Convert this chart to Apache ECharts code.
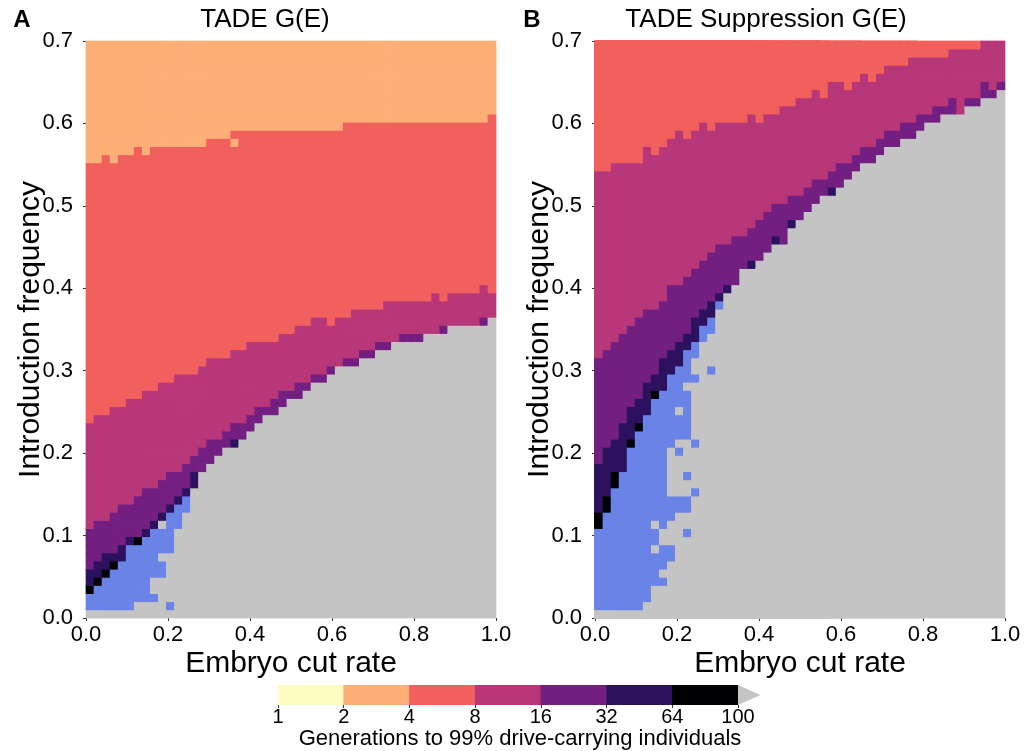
<!DOCTYPE html>
<html><head><meta charset="utf-8">
<script src="https://cdn.jsdelivr.net/npm/echarts@6/dist/echarts.min.js"></script>
<style>html,body{margin:0;padding:0;background:#fff}#c{width:1026px;height:751px}</style>
</head><body><div id="c"></div>
<script>
// ---------- grid definition ----------
const NX = 51;            // embryo cut rate steps (0 .. 1)
const NY = 71;            // introduction frequency steps (0 .. 0.7)
const YMAX = 0.7;
const xTickValues = [0, 0.2, 0.4, 0.6, 0.8, 1.0];
const yTickValues = [0, 0.1, 0.2, 0.3, 0.4, 0.5, 0.6, 0.7];
const colorbarTickLabels = ['1', '2', '4', '8', '16', '32', '64', '100'];
// category index: 0 >100 (grey), 1 drive lost (blue), 2 64-100, 3 32-64, 4 16-32, 5 8-16, 6 4-8, 7 2-4, 8 1-2
const colorbarCategories = [8, 7, 6, 5, 4, 3, 2];

// ---------- Panel A: TADE G(E) (row index boundaries per cut-rate column) ----------
const startA      = [3,4,5,6,7,9,9,10,11,12,13,14,15,16,18,19,20,21,21,22,23,24,25,25,26,27,27,28,29,29,30,31,31,31,32,32,33,33,34,34,34,34,35,35,35,36,36,36,36,36,37];
const blackTopA   = [4,5,6,7,7,9,10,10,11,12,13,14,15,16,18,19,20,21,21,22,23,24,25,25,26,27,27,28,29,29,30,31,31,31,32,32,33,33,34,34,34,34,35,35,35,36,36,36,36,36,37];
const darkTopA    = [6,7,8,8,9,10,10,11,12,13,14,15,16,18,18,19,20,21,22,22,23,24,25,25,26,27,27,28,29,29,30,31,31,31,32,32,33,33,34,34,34,34,35,35,35,36,36,36,36,36,37];
const purpleTopA  = [11,12,12,13,14,14,15,16,16,17,18,18,19,20,21,22,22,23,24,24,25,26,26,27,28,28,29,29,30,30,31,31,32,32,33,33,34,34,34,35,35,35,35,35,36,36,36,36,36,37,37];
const magentaTopA = [24,25,25,26,26,27,27,28,28,29,29,30,30,30,31,32,32,32,33,33,34,34,34,34,35,35,36,36,37,37,36,37,37,38,38,38,38,39,39,39,39,39,39,40,39,40,40,40,40,41,40];
const redTopA     = [56,56,57,56,57,57,58,57,58,58,58,58,58,58,58,59,59,59,60,60,60,60,60,60,60,60,60,60,60,60,60,60,61,61,61,61,61,61,61,61,61,61,61,61,61,61,61,61,61,61,62];
const blueEndA    = [-1,5,8,7,7,9,9,8,10,10,10,11,11,12,12,12];   // last blue column per row
const extraCellsA = [[10,1,1],[9,11,0],[18,58,7]];               // [column,row,category]

// ---------- Panel B: TADE Suppression G(E) ----------
const startB      = [11,13,16,18,21,23,25,27,28,30,31,33,34,36,37,39,40,41,43,43,44,45,46,46,48,49,50,51,52,52,53,54,55,56,56,57,58,58,59,59,60,61,61,62,62,62,63,63,64,64,65];
const blackTopB   = [13,15,18,18,22,24,25,28,28,30,31,33,34,36,37,39,40,41,43,43,44,45,46,46,48,49,50,51,52,52,53,54,55,56,56,57,58,58,59,59,60,61,61,62,62,62,63,63,64,64,65];
const darkTopB    = [19,21,22,24,26,27,29,30,32,33,34,35,37,38,39,40,41,41,43,44,44,45,47,46,49,49,50,51,52,53,53,54,55,56,56,57,58,58,59,59,60,61,61,62,62,62,63,63,64,64,65];
const purpleTopB  = [32,33,34,35,36,37,38,38,39,41,41,42,43,44,45,46,46,47,47,48,49,50,51,51,52,52,53,54,54,55,56,56,57,58,58,59,60,60,61,61,62,62,63,63,64,62,64,64,66,65,66];
const magentaTopB = [55,55,56,56,56,56,58,57,58,59,60,59,60,61,60,61,61,61,61,62,61,62,62,63,63,64,64,65,64,66,66,65,66,67,66,67,68,68,68,69,69,69,69,69,70,70,70,70,71,71,71];
const redTopB     = null;   // no 2-4 region in panel B
const blueEndB    = [-1,5,6,6,8,7,8,9,9,7,7,8,9,11,11,8,8,8,8,8,8,9,11,11,11,11,11,11,10,11,11,11,12,12,13,14,14,14,15,15];
const extraCellsB = [[11,10,1],[12,15,1],[11,17,1],[10,20,1],[12,21,1],[12,29,1],[14,30,1],[7,8,0],[7,11,0],[10,25,0]];

const COLORS = ['#c4c4c4','#6a83e6','#000004','#2c115f','#721f81','#b73779','#f1605d','#feaf77','#fcfdbf'];
const FONT = 'Liberation Sans, Arial, Helvetica, sans-serif';

function buildCells(start, blackTop, darkTop, purpleTop, magentaTop, redTop, blueEnd, extras) {
  const g = [];
  for (let c = 0; c < NX; c++) {
    const col = [];
    for (let r = 0; r < NY; r++) {
      let k;
      if (r >= start[c]) {
        if (r < blackTop[c]) k = 2;
        else if (r < darkTop[c]) k = 3;
        else if (r < purpleTop[c]) k = 4;
        else if (r < magentaTop[c]) k = 5;
        else if (!redTop || r < redTop[c]) k = 6;
        else k = 7;
      } else {
        k = (r < blueEnd.length && c <= blueEnd[r]) ? 1 : 0;
      }
      col.push(k);
    }
    g.push(col);
  }
  extras.forEach(e => { g[e[0]][e[1]] = e[2]; });
  const data = [];
  for (let c = 0; c < NX; c++) for (let r = 0; r < NY; r++) data.push([c / NX, r * YMAX / NY, g[c][r]]);
  return data;
}

function cellRender(params, api) {
  const x = api.value(0), y = api.value(1), k = api.value(2);
  const a = api.coord([x, y + YMAX / NY]);
  const b = api.coord([x + 1 / NX, y]);
  const col = COLORS[k];
  const pad = 0.35;
  return { type: 'rect', shape: { x: a[0] - pad, y: a[1] - pad, width: b[0] - a[0] + 2 * pad, height: b[1] - a[1] + 2 * pad },
           style: { fill: col } };
}

const dataA = buildCells(startA, blackTopA, darkTopA, purpleTopA, magentaTopA, redTopA, blueEndA, extraCellsA);
const dataB = buildCells(startB, blackTopB, darkTopB, purpleTopB, magentaTopB, redTopB, blueEndB, extraCellsB);

function xAxisFor(idx) {
  return { type: 'value', gridIndex: idx, min: 0, max: 1, interval: 0.2,
    name: 'Embryo cut rate', nameLocation: 'middle', nameGap: 31, nameMoveOverlap: false,
    nameTextStyle: { fontSize: 30, color: '#000', fontFamily: FONT },
    axisLine: { show: false }, splitLine: { show: false },
    axisTick: { show: true, length: 3, lineStyle: { color: '#333' } },
    axisLabel: { fontSize: 22, color: '#000', fontFamily: FONT, margin: 6, formatter: v => v.toFixed(1) } };
}
function yAxisFor(idx) {
  return { type: 'value', gridIndex: idx, min: 0, max: YMAX, interval: 0.1,
    name: 'Introduction frequency', nameLocation: 'middle', nameGap: 40, nameRotate: 90, nameMoveOverlap: false,
    nameTextStyle: { fontSize: 30, color: '#000', fontFamily: FONT },
    axisLine: { show: false }, splitLine: { show: false },
    axisTick: { show: true, length: 3, lineStyle: { color: '#333' } },
    axisLabel: { fontSize: 22, color: '#000', fontFamily: FONT, margin: 13, formatter: v => v.toFixed(1) } };
}

const chart = echarts.init(document.getElementById('c'), null, { renderer: 'canvas' });
chart.setOption({
  animation: false,
  backgroundColor: '#fff',
  grid: [
    { left: 86, top: 41, width: 410, height: 577 },
    { left: 595, top: 41, width: 410, height: 577 },
    { left: 278, top: 685, width: 460, height: 20 }
  ],
  xAxis: [xAxisFor(0), xAxisFor(1),
    { type: 'value', gridIndex: 2, min: 0, max: 7, interval: 1,
      axisLine: { show: false }, splitLine: { show: false },
      axisTick: { show: true, length: 3, lineStyle: { color: '#333' } },
      axisLabel: { fontSize: 20, color: '#000', fontFamily: FONT, margin: 2, formatter: v => colorbarTickLabels[Math.round(v)] } }],
  yAxis: [yAxisFor(0), yAxisFor(1),
    { type: 'value', gridIndex: 2, min: 0, max: 1, show: false }],
  graphic: [
    { type: 'text', x: 265, y: 20, style: { text: 'TADE G(E)', fontSize: 26, fontFamily: FONT, fill: '#000', align: 'center', verticalAlign: 'middle' } },
    { type: 'text', x: 766, y: 20, style: { text: 'TADE Suppression G(E)', fontSize: 26, fontFamily: FONT, fill: '#000', align: 'center', verticalAlign: 'middle' } },
    { type: 'text', x: 22, y: 20, style: { text: 'A', fontSize: 24, fontWeight: 'bold', fontFamily: FONT, fill: '#000', align: 'center', verticalAlign: 'middle' } },
    { type: 'text', x: 532, y: 20, style: { text: 'B', fontSize: 24, fontWeight: 'bold', fontFamily: FONT, fill: '#000', align: 'center', verticalAlign: 'middle' } },
    { type: 'text', x: 520, y: 739, style: { text: 'Generations to 99% drive-carrying individuals', fontSize: 22, fontFamily: FONT, fill: '#000', align: 'center', verticalAlign: 'middle' } }
  ],
  series: [
    { type: 'custom', xAxisIndex: 0, yAxisIndex: 0, renderItem: cellRender, data: dataA, silent: true },
    { type: 'custom', xAxisIndex: 1, yAxisIndex: 1, renderItem: cellRender, data: dataB, silent: true },
    { type: 'custom', xAxisIndex: 2, yAxisIndex: 2, silent: true,
      data: colorbarCategories.map((k, i) => [i, k]),
      renderItem: (p, api) => {
        const a = api.coord([api.value(0), 1]), b = api.coord([api.value(0) + 1, 0]);
        const col = COLORS[api.value(1)];
        return { type: 'rect', shape: { x: a[0] - 0.3, y: a[1], width: b[0] - a[0] + 0.6, height: b[1] - a[1] }, style: { fill: col } };
      } },
    { type: 'custom', xAxisIndex: 2, yAxisIndex: 2, silent: true, clip: false,
      data: [[7, 0]],
      renderItem: (p, api) => {
        const a = api.coord([7, 1]), b = api.coord([7, 0]), t = api.coord([7.34, 0.5]);
        return { type: 'polygon', shape: { points: [a, b, t] }, style: { fill: COLORS[0] } };
      } }
  ]
});
</script>
</body></html>
